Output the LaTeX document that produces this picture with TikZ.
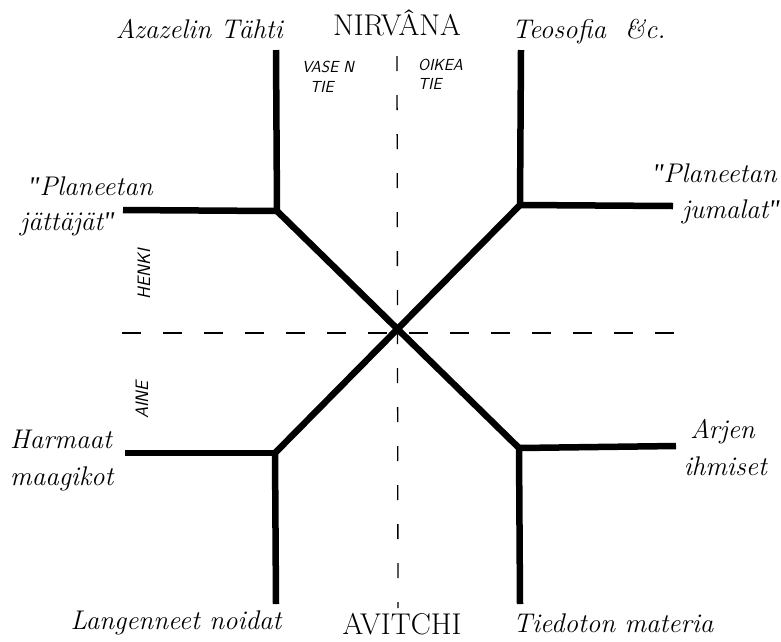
\documentclass[tikz,border=0pt]{standalone}
\usepackage{fontspec}
\newfontfamily\qfont{Liberation Serif}
\newcommand{\sq}{{\qfont\itshape "}}
\begin{document}
\begin{tikzpicture}[x=1pt,y=-1pt,
  heavy/.style={line width=6.5pt,line join=round,black},
  guide/.style={line width=1.3pt,black},
  vdash/.style={guide,dash pattern=on 15pt off 24pt},
  hdash/.style={guide,dash pattern=on 19pt off 22pt},
  lbl/.style={inner sep=0pt,font=\fontsize{27}{30}\selectfont\itshape},
  big/.style={inner sep=0pt,font=\fontsize{30}{32}\selectfont},
  hand/.style={inner sep=0pt,font=\fontsize{16}{18}\selectfont\sffamily\itshape},
  handv/.style={inner sep=0pt,font=\fontsize{18}{20}\selectfont\sffamily\itshape}]
\useasboundingbox (0,0) rectangle (781,641);
% junction and end coordinates
\coordinate (C) at (398,332);
\coordinate (UL) at (277,211);
\coordinate (UR) at (520,205);
\coordinate (LL) at (275,453);
\coordinate (LR) at (519,448);
\coordinate (ULtop) at (276,50);
\coordinate (ULend) at (123,210);
\coordinate (URtop) at (521,50);
\coordinate (URend) at (673,206);
\coordinate (LLend) at (125,453);
\coordinate (LLbot) at (276,604);
\coordinate (LRend) at (676,446);
\coordinate (LRbot) at (520,604);
\coordinate (Vtop) at (397,56);
\coordinate (Vbot) at (398,608);
\coordinate (Hl) at (122,333);
\coordinate (Hr) at (674,333);
% dashed axes
\draw[vdash] (Vtop) -- (Vbot);
\draw[hdash] (Hl) -- (Hr);
% heavy paths
\draw[heavy] (ULtop) -- (UL) -- (LR) -- (LRbot);
\draw[heavy] (ULend) -- (UL);
\draw[heavy] (LR) -- (LRend);
\draw[heavy] (URtop) -- (UR) -- (LL) -- (LLbot);
\draw[heavy] (URend) -- (UR);
\draw[heavy] (LLend) -- (LL);
% labels
\node[lbl,anchor=base east] (az) at (283,38) {Azazelin Tähti};
\node[big,anchor=base] (nirv) at (397,35) {NIRVÂNA};
\node[lbl,anchor=base west] (teo) at (512,38) {Teosofia \ \&c.};
\node[lbl,anchor=base west] (pj1) at (28,195) {\sq Planeetan};
\node[lbl,anchor=base west] (pj2) at (20,230) {jättäjät\sq};
\node[lbl,anchor=base east] (pu1) at (777,182) {\sq Planeetan};
\node[lbl,anchor=base east] (pu2) at (780,218) {jumalat\sq};
\node[lbl,anchor=base west] (hm1) at (10,448) {Harmaat};
\node[lbl,anchor=base west] (hm2) at (10,485) {maagikot};
\node[lbl,anchor=base east] (ai1) at (755,438) {Arjen};
\node[lbl,anchor=base east] (ai2) at (767,475) {ihmiset};
\node[lbl,anchor=base] (ln) at (176,629) {Langenneet noidat};
\node[big,anchor=base] (av) at (402,634) {AVITCHI};
\node[lbl,anchor=base west] (tm) at (513,632) {Tiedoton materia};
% hand-lettered labels
\node[hand,anchor=west] (vs1) at (302,67) {VASE N};
\node[hand,anchor=west] (vs2) at (310,87) {TIE};
\node[hand,anchor=west] (ok1) at (418,65) {OIKEA};
\node[hand,anchor=west] (ok2) at (418,84) {TIE};
\node[handv,rotate=90] (hk) at (144,274) {HENKI};
\node[handv,rotate=90] (an) at (142,400) {AINE};
\end{tikzpicture}
\end{document}
